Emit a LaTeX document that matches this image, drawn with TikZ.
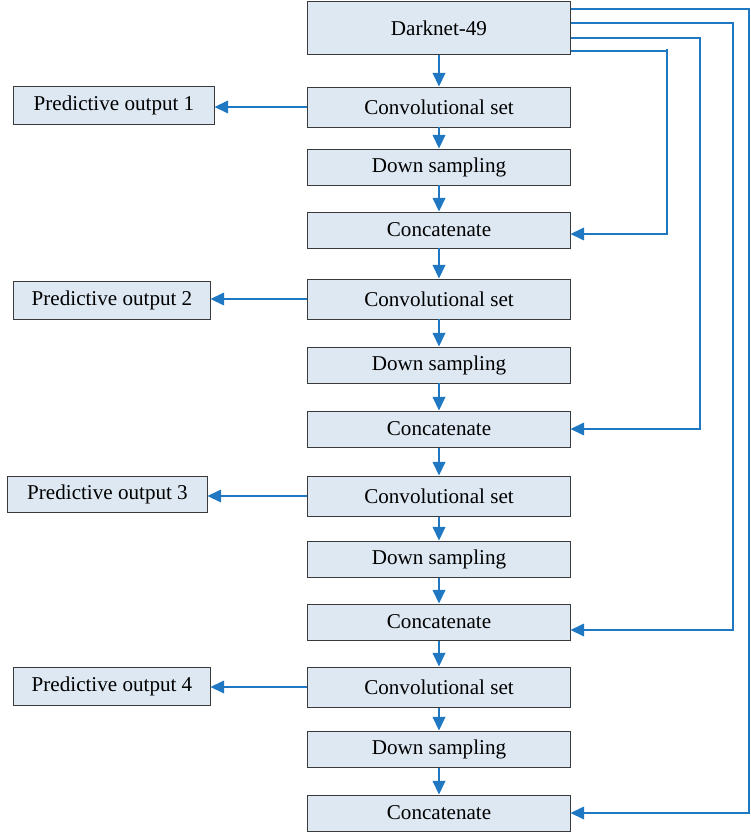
\documentclass[tikz,border=0pt]{standalone}
\usepackage{fontspec}
\setmainfont{Liberation Serif}
\usetikzlibrary{arrows.meta}
\definecolor{boxfill}{HTML}{DDE8F3}
\definecolor{boxline}{HTML}{3A3A3A}
\definecolor{arrblue}{HTML}{1F78C1}
\tikzset{
  box/.style={draw=boxline, line width=0.7pt, fill=boxfill, minimum width=6.55cm, minimum height=0.9cm, inner sep=0pt, font=\fontsize{15}{18}\selectfont},
  tallbox/.style={box, minimum height=1cm},
  outbox/.style={box, minimum width=5cm, minimum height=0.95cm},
  arr/.style={draw=arrblue, line width=0.8pt, -{Triangle[length=0.34cm, width=0.32cm]}},
  wire/.style={draw=arrblue, line width=0.8pt}
}

\begin{document}
\begin{tikzpicture}[x=0.025cm, y=-0.025cm]
\useasboundingbox (0,0) rectangle (750,833);
\node[box, minimum height=1.325cm] (dark) at (439,28) {Darknet-49};
\node[tallbox] (conv1) at (439,107) {Convolutional set};
\node[box] (down1) at (439,167) {Down sampling};
\node[box] (cat1) at (439,230) {Concatenate};
\node[tallbox] (conv2) at (439,299) {Convolutional set};
\node[box] (down2) at (439,365) {Down sampling};
\node[box] (cat2) at (439,429) {Concatenate};
\node[tallbox] (conv3) at (439,496) {Convolutional set};
\node[box] (down3) at (439,559) {Down sampling};
\node[box] (cat3) at (439,622) {Concatenate};
\node[tallbox] (conv4) at (439,687) {Convolutional set};
\node[box] (down4) at (439,749) {Down sampling};
\node[box] (cat4) at (439,813) {Concatenate};
% outputs on the left
\node[outbox] (out1) at (114,105) {Predictive output 1};
\node[outbox, minimum width=4.9cm] (out2) at (112,300) {Predictive output 2};
\node[outbox, minimum width=4.975cm, minimum height=0.9cm] (out3) at (107.5,494) {Predictive output 3};
\node[outbox, minimum width=4.9cm] (out4) at (112,686) {Predictive output 4};
% main chain
\draw[arr] (dark) -- (conv1);
\draw[arr] (conv1) -- (down1);
\draw[arr] (down1) -- (cat1);
\draw[arr] (cat1) -- (conv2);
\draw[arr] (conv2) -- (down2);
\draw[arr] (down2) -- (cat2);
\draw[arr] (cat2) -- (conv3);
\draw[arr] (conv3) -- (down3);
\draw[arr] (down3) -- (cat3);
\draw[arr] (cat3) -- (conv4);
\draw[arr] (conv4) -- (down4);
\draw[arr] (down4) -- (cat4);
% predictions
\draw[arr] (conv1.west) -- (out1.east |- conv1.west);
\draw[arr] (conv2.west) -- (out2.east |- conv2.west);
\draw[arr] (conv3.west) -- (out3.east |- conv3.west);
\draw[arr] (conv4.west) -- (out4.east |- conv4.west);
% skip connections from the backbone
\coordinate (k1) at (667,49);
\draw[wire] (dark.east |- 0,51) -- (667,51);
\draw[arr] (k1) -- (667,234) -- (cat1.east |- 0,234);
\draw[arr] (dark.east |- 0,38) -- (700,38) -- (700,429) -- (cat2.east);
\draw[arr] (dark.east |- 0,23) -- (733,23) -- (733,630) -- (cat3.east |- 0,630);
\draw[arr] (dark.east |- 0,9) -- (749,9) -- (749,813) -- (cat4.east);
\end{tikzpicture}
\end{document}
